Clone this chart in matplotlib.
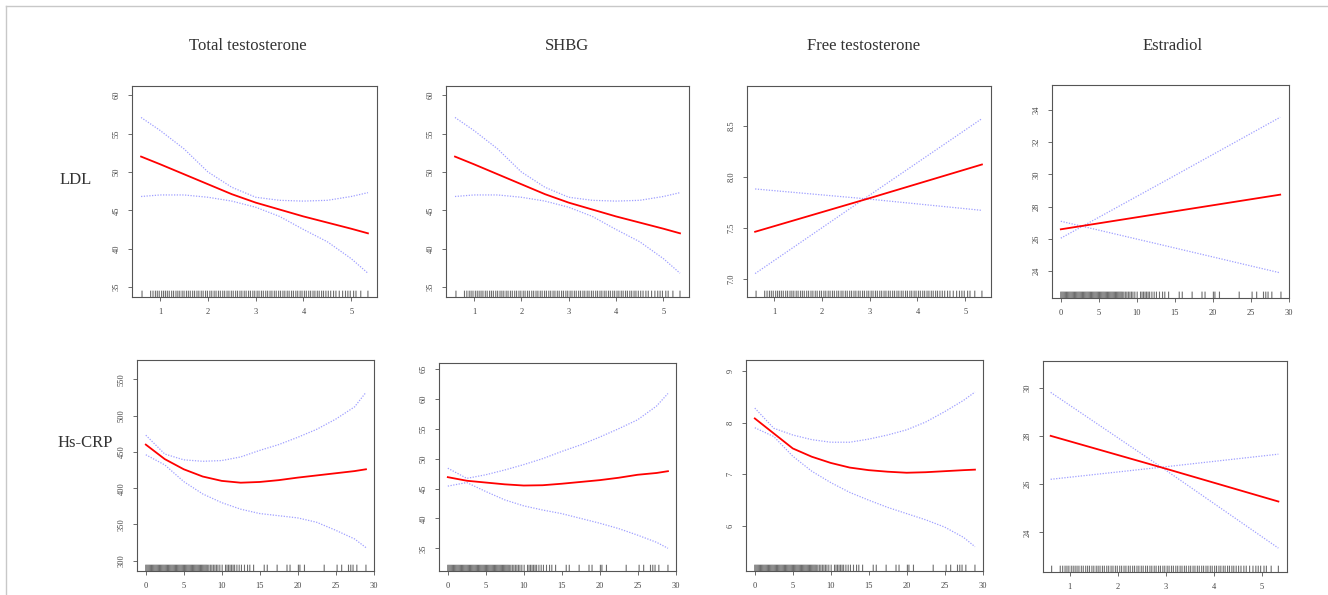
import matplotlib.pyplot as plt
from matplotlib.lines import Line2D

plt.rcParams['font.family'] = ['Liberation Serif', 'DejaVu Serif']

col_titles = ['Total testosterone', 'SHBG', 'Free testosterone', 'Estradiol']
row_titles = ['LDL', 'Hs-CRP']

# x грид для кривых
x_small = [0.6, 1.0, 1.5, 2.0, 2.5, 3.0, 3.5, 4.0, 4.5, 5.0, 5.35]
x_big = [0, 2.5, 5, 7.5, 10, 12.5, 15, 17.5, 20, 22.5, 25, 27.5, 29]
x_small_lin = [0.6, 3.0, 5.35]
x_big_lin = [0, 14.5, 28.9]

# LDL ~ total testosterone / SHBG
ldl_tt_fit = [52.0, 51.0, 49.7, 48.4, 47.1, 46.0, 45.1, 44.2, 43.4, 42.6, 42.0]
ldl_tt_up = [57.1, 55.4, 53.0, 50.0, 48.0, 46.7, 46.3, 46.2, 46.3, 46.8, 47.3]
ldl_tt_lo = [46.8, 47.0, 47.0, 46.7, 46.2, 45.4, 44.2, 42.5, 40.9, 38.7, 36.8]

# LDL ~ free testosterone
ldl_ft_fit = [7.46, 7.79, 8.12]
ldl_ft_up = [7.05, 7.82, 8.57]
ldl_ft_lo = [7.88, 7.78, 7.67]

# LDL ~ estradiol
ldl_e2_fit = [26.6, 27.68, 28.75]
ldl_e2_up = [26.05, 29.8, 33.55]
ldl_e2_lo = [27.1, 25.5, 23.9]

# Hs-CRP ~ total testosterone
crp_tt_fit = [460, 440, 426, 416, 410, 407.5, 408.5, 411, 414.5, 417.5, 420.5, 423.5, 426]
crp_tt_up = [473, 447, 439, 437, 438, 443, 452, 460, 470, 481, 495, 512, 532]
crp_tt_lo = [446, 432, 409, 392, 380, 371, 365, 362, 359, 353, 342, 330, 318]

# Hs-CRP ~ SHBG
crp_sh_fit = [46.9, 46.3, 46.0, 45.7, 45.5, 45.55, 45.8, 46.1, 46.4, 46.8, 47.3, 47.6, 47.9]
crp_sh_up = [48.4, 46.7, 47.3, 48.1, 49.0, 50.0, 51.2, 52.3, 53.6, 55.0, 56.5, 58.8, 60.9]
crp_sh_lo = [45.4, 46.0, 44.5, 43.1, 42.1, 41.4, 40.8, 40.0, 39.2, 38.3, 37.2, 36.0, 35.0]

# Hs-CRP ~ free testosterone
crp_ft_fit = [8.08, 7.79, 7.50, 7.34, 7.22, 7.13, 7.08, 7.05, 7.03, 7.04, 7.06, 7.08, 7.09]
crp_ft_up = [8.28, 7.89, 7.76, 7.67, 7.62, 7.62, 7.68, 7.76, 7.86, 8.01, 8.21, 8.43, 8.59]
crp_ft_lo = [7.90, 7.73, 7.35, 7.06, 6.84, 6.65, 6.50, 6.36, 6.24, 6.12, 5.98, 5.78, 5.60]

# Hs-CRP ~ estradiol
crp_e2_fit = [28.0, 26.64, 25.28]
crp_e2_up = [29.8, 26.58, 23.35]
crp_e2_lo = [26.2, 26.72, 27.24]

# rug (наблюдения)
rug_small = [0.62, 0.80, 0.85, 0.90, 0.94, 0.98, 1.03, 1.07, 1.11, 1.15, 1.19, 1.24, 1.28,
             1.33, 1.37, 1.41, 1.46, 1.50, 1.55, 1.59, 1.63, 1.68, 1.72, 1.77, 1.81, 1.86,
             1.90, 1.95, 1.99, 2.04, 2.08, 2.13, 2.17, 2.22, 2.26, 2.31, 2.35, 2.40, 2.44,
             2.49, 2.53, 2.58, 2.62, 2.67, 2.71, 2.76, 2.80, 2.85, 2.89, 2.94, 2.98, 3.03,
             3.07, 3.12, 3.16, 3.21, 3.25, 3.30, 3.34, 3.39, 3.43, 3.48, 3.52, 3.57, 3.61,
             3.66, 3.70, 3.75, 3.79, 3.84, 3.88, 3.93, 3.97, 4.02, 4.06, 4.11, 4.15, 4.20,
             4.24, 4.29, 4.33, 4.38, 4.42, 4.47, 4.52, 4.57, 4.63, 4.68, 4.75, 4.82, 4.88,
             4.93, 4.98, 5.05, 5.10, 5.20, 5.35]
rug_big = [0.0, 0.15, 0.3, 0.45, 0.6, 0.75, 0.9, 1.05, 1.2, 1.35, 1.5, 1.65, 1.8, 1.95,
           2.1, 2.25, 2.4, 2.55, 2.7, 2.85, 3.0, 3.15, 3.3, 3.45, 3.6, 3.75, 3.9, 4.05,
           4.2, 4.35, 4.5, 4.65, 4.8, 4.95, 5.1, 5.25, 5.4, 5.55, 5.7, 5.85, 6.0, 6.15,
           6.3, 6.45, 6.6, 6.75, 6.9, 7.05, 7.2, 7.35, 7.5, 7.65, 7.8, 7.95, 8.1, 8.3,
           8.5, 8.7, 8.9, 9.1, 9.3, 9.5, 9.75, 10.06, 10.5, 10.7, 10.9, 11.1, 11.3, 11.5,
           11.7, 12.0, 12.3, 12.6, 13.0, 13.4, 13.7, 14.2, 15.6, 16.0, 17.3, 18.6, 19.0,
           20.1, 20.3, 20.9, 23.5, 25.2, 25.8, 26.7, 27.0, 27.3, 27.8, 29.0]

W, H = 1328, 595
fig = plt.figure(figsize=(W / 100, H / 100), dpi=100)

# рамка вокруг картинки (только сверху и слева)
fig.add_artist(Line2D([6 / W, 1], [1 - 6 / H, 1 - 6 / H], color='#c8c8c8', lw=1))
fig.add_artist(Line2D([6 / W, 6 / W], [0, 1 - 6 / H], color='#c8c8c8', lw=1))

# left, right, top, bottom в пикселях
boxes = [(132, 377, 86, 297), (446, 689, 86, 297), (747, 991, 86, 297), (1052, 1289, 85, 298),
         (137, 374, 360, 571), (439, 676, 363, 571), (746, 983, 360, 571), (1043, 1287, 361, 572)]

panels = [
    (x_small, ldl_tt_fit, ldl_tt_up, ldl_tt_lo, rug_small, (0.41, 5.54), (33.7, 61.2),
     [1, 2, 3, 4, 5], [35, 40, 45, 50, 55, 60], None),
    (x_small, ldl_tt_fit, ldl_tt_up, ldl_tt_lo, rug_small, (0.41, 5.54), (33.7, 61.2),
     [1, 2, 3, 4, 5], [35, 40, 45, 50, 55, 60], None),
    (x_small_lin, ldl_ft_fit, ldl_ft_up, ldl_ft_lo, rug_small, (0.43, 5.54), (6.82, 8.89),
     [1, 2, 3, 4, 5], [7.0, 7.5, 8.0, 8.5], '%.1f'),
    (x_big_lin, ldl_e2_fit, ldl_e2_up, ldl_e2_lo, rug_big, (-1.16, 30.06), (22.34, 35.55),
     [0, 5, 10, 15, 20, 25, 30], [24, 26, 28, 30, 32, 34], None),
    (x_big, crp_tt_fit, crp_tt_up, crp_tt_lo, rug_big, (-1.16, 30.06), (285.8, 576.6),
     [0, 5, 10, 15, 20, 25, 30], [300, 350, 400, 450, 500, 550], None),
    (x_big, crp_sh_fit, crp_sh_up, crp_sh_lo, rug_big, (-1.16, 30.06), (31.2, 66.0),
     [0, 5, 10, 15, 20, 25, 30], [35, 40, 45, 50, 55, 60, 65], None),
    (x_big, crp_ft_fit, crp_ft_up, crp_ft_lo, rug_big, (-1.16, 30.06), (5.13, 9.21),
     [0, 5, 10, 15, 20, 25, 30], [6, 7, 8, 9], None),
    (x_small_lin, crp_e2_fit, crp_e2_up, crp_e2_lo, rug_small, (0.44, 5.53), (22.36, 31.1),
     [1, 2, 3, 4, 5], [24, 26, 28, 30], None),
]

for (l, r, t, b), p in zip(boxes, panels):
    xs, fit, up, lo, rug, xl, yl, xt, yt, fmt = p
    ax = fig.add_axes([l / W, 1 - b / H, (r - l) / W, (b - t) / H])
    ax.plot(xs, up, color='#9f9fff', lw=0.9, ls=(0, (1, 1.2)))
    ax.plot(xs, lo, color='#9f9fff', lw=0.9, ls=(0, (1, 1.2)))
    ax.plot(xs, fit, color='red', lw=1.3)
    # rug без привязки к пикселям, чтобы не было "кирпичей"
    ax.vlines(rug, 0, 0.03, colors='#555555', lw=0.8, alpha=0.85,
              transform=ax.get_xaxis_transform(), snap=False, antialiased=True)
    ax.set_xlim(*xl)
    ax.set_ylim(*yl)
    ax.set_xticks(xt)
    ax.set_yticks(yt)
    if fmt:
        ax.set_yticklabels([fmt % v for v in yt])
    for s in ax.spines.values():
        s.set_color('#555555')
        s.set_linewidth(0.8)
    ax.tick_params(length=3, width=0.6, color='#555555', labelsize=6,
                   labelcolor='#444444', pad=5)
    for lab in ax.get_yticklabels():
        lab.set_rotation(90)
        lab.set_va('center')

# заголовки столбцов
for x, t in zip([248, 567, 864, 1173], col_titles):
    fig.text(x / W, 1 - 46 / H, t, ha='center', va='center', fontsize=12, color='#333333')

# подписи строк
fig.text(76 / W, 1 - 180 / H, row_titles[0], ha='center', va='center', fontsize=12, color='#333333')
fig.text(85 / W, 1 - 443 / H, row_titles[1], ha='center', va='center', fontsize=12, color='#333333')

fig.savefig('out.png', dpi=100)
